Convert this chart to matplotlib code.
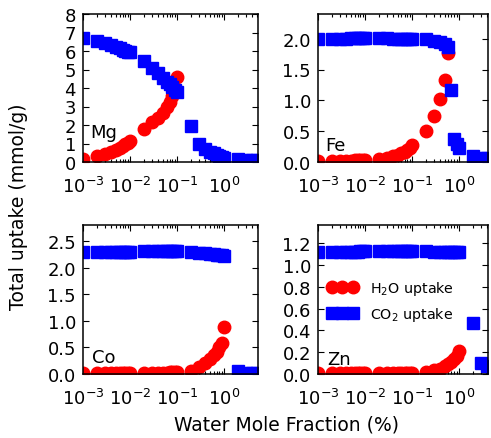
import numpy as np
import matplotlib
matplotlib.use("Agg")
import matplotlib.pyplot as plt

nan = np.nan

# water mole fraction grid (%)
water_frac = [0.001, 0.002, 0.003, 0.004, 0.005, 0.006, 0.007, 0.008, 0.009,
              0.01, 0.02, 0.03, 0.04, 0.05, 0.06, 0.07, 0.08, 0.09,
              0.1, 0.2, 0.3, 0.4, 0.5, 0.6, 0.7, 0.8, 0.9,
              1.0, 2.0, 3.0, 4.0, 5.0]

# uptake (mmol/g) for each metal, nan where nothing is shown
mg_h2o = [0.15, 0.35, 0.45, 0.55, 0.65, 0.75, 0.85, 0.95, 1.05,
          1.15, 1.8, 2.15, 2.4, 2.65, 2.95, 3.25, 3.55, 3.9,
          4.6, nan, nan, nan, nan, nan, nan, nan, nan,
          nan, nan, nan, nan, nan]
mg_co2 = [6.7, 6.56, 6.42, 6.32, 6.22, 6.14, 6.07, 6.01, 5.96,
          5.92, 5.48, 5.1, 4.8, 4.55, 4.35, 4.2, 4.05, 3.9,
          3.78, 1.95, 0.95, 0.72, 0.56, 0.46, 0.38, 0.32, 0.27,
          0.24, 0.16, 0.13, 0.12, 0.11]

fe_h2o = [0.02, 0.02, 0.02, 0.02, 0.02, 0.03, 0.03, 0.03, 0.03,
          0.03, 0.05, 0.07, 0.09, 0.12, 0.14, 0.17, 0.2, 0.23,
          0.27, 0.5, 0.75, 1.02, 1.33, 1.76, nan, nan, nan,
          nan, nan, nan, nan, nan]
fe_co2 = [2.0, 2.0, 2.0, 2.0, 2.01, 2.01, 2.01, 2.01, 2.01,
          2.01, 2.01, 2.01, 2.0, 2.0, 2.0, 2.0, 2.0, 2.0,
          2.0, 1.99, 1.97, 1.95, 1.92, 1.87, 1.17, 0.38, 0.3,
          0.22, 0.1, 0.07, 0.06, 0.05]

co_h2o = [0.01, 0.01, 0.01, 0.01, 0.01, 0.01, 0.01, 0.01, 0.01,
          0.015, 0.02, 0.02, 0.02, 0.025, 0.025, 0.03, 0.03, 0.03,
          0.035, 0.06, 0.13, 0.2, 0.28, 0.35, 0.42, 0.5, 0.58,
          0.88, nan, nan, nan, nan]
co_co2 = [2.3, 2.3, 2.3, 2.3, 2.3, 2.3, 2.3, 2.3, 2.3,
          2.3, 2.31, 2.31, 2.32, 2.32, 2.32, 2.32, 2.32, 2.32,
          2.31, 2.29, 2.28, 2.27, 2.26, 2.25, 2.24, 2.24, 2.23,
          2.22, 0.05, 0.01, 0.01, 0.01]

zn_h2o = [0.005, 0.005, 0.005, 0.005, 0.005, 0.005, 0.005, 0.005, 0.005,
          0.005, 0.005, 0.005, 0.005, 0.005, 0.005, 0.005, 0.005, 0.005,
          0.008, 0.02, 0.035, 0.05, 0.07, 0.09, 0.11, 0.14, 0.17,
          0.21, nan, nan, nan, nan]
zn_co2 = [1.12, 1.12, 1.12, 1.12, 1.12, 1.12, 1.12, 1.13, 1.13,
          1.13, 1.13, 1.13, 1.13, 1.13, 1.13, 1.13, 1.13, 1.13,
          1.13, 1.13, 1.12, 1.12, 1.12, 1.12, 1.12, 1.12, 1.12,
          1.12, 0.47, 0.1, 0.07, 0.06]

metals = ["Mg", "Fe", "Co", "Zn"]
h2o = [mg_h2o, fe_h2o, co_h2o, zn_h2o]
co2 = [mg_co2, fe_co2, co_co2, zn_co2]
y_tops = [8, 2.4, 2.8, 1.37]
y_ticks = [np.arange(0, 9, 1), np.arange(0, 2.01, 0.5),
           np.arange(0, 2.51, 0.5), np.arange(0, 1.21, 0.2)]

W, H = 491, 439
# axes boxes in pixels: left, top, right, bottom
boxes = [(83, 15, 258, 163), (318, 15, 488, 163),
         (83, 226, 258, 375), (318, 226, 488, 375)]
x_max = [5.3, 4.2, 5.3, 4.2]
label_pos = [(0.04, 0.20), (0.04, 0.115), (0.05, 0.117), (0.053, 0.104)]

plt.rcParams["font.family"] = "DejaVu Sans"
plt.rcParams["mathtext.default"] = "regular"

fig = plt.figure(figsize=(W / 100, H / 100), dpi=100)

for i, metal in enumerate(metals):
    l, t, r, b = boxes[i]
    ax = fig.add_axes([l / W, 1 - b / H, (r - l) / W, (b - t) / H])
    ax.plot(water_frac, h2o[i], "o", color="red", mec="red", ms=9,
            label="H$_2$O uptake")
    ax.plot(water_frac, co2[i], "s", color="blue", mec="blue", ms=8.5,
            label="CO$_2$ uptake")
    ax.set_xscale("log")
    ax.set_xlim(1e-3, x_max[i])
    ax.set_ylim(0, y_tops[i])
    ax.set_yticks(y_ticks[i])
    ax.set_xticks([1e-3, 1e-2, 1e-1, 1e0])
    ax.tick_params(which="both", direction="in", top=True, right=True,
                   labelsize=13, width=0.8)
    ax.tick_params(which="major", length=4.5, pad=5)
    ax.tick_params(which="minor", length=2.2)
    ax.tick_params(axis="x", which="major", pad=10)
    for s in ax.spines.values():
        s.set_linewidth(1.1)
    ax.text(label_pos[i][0], label_pos[i][1], metal, transform=ax.transAxes,
            fontsize=13, va="center", ha="left")
    if metal == "Zn":
        ax.legend(loc="center left", bbox_to_anchor=(-0.02, 0.49),
                  frameon=False, numpoints=3, fontsize=10.3,
                  handlelength=2.1, handletextpad=0.9, labelspacing=0.6)

fig.text(0.037, 0.53, "Total uptake (mmol/g)", rotation=90, fontsize=13.5,
         ha="center", va="center")
fig.text(0.583, 0.032, "Water Mole Fraction (%)", fontsize=13.5,
         ha="center", va="center")

fig.savefig("out.png", dpi=100)
